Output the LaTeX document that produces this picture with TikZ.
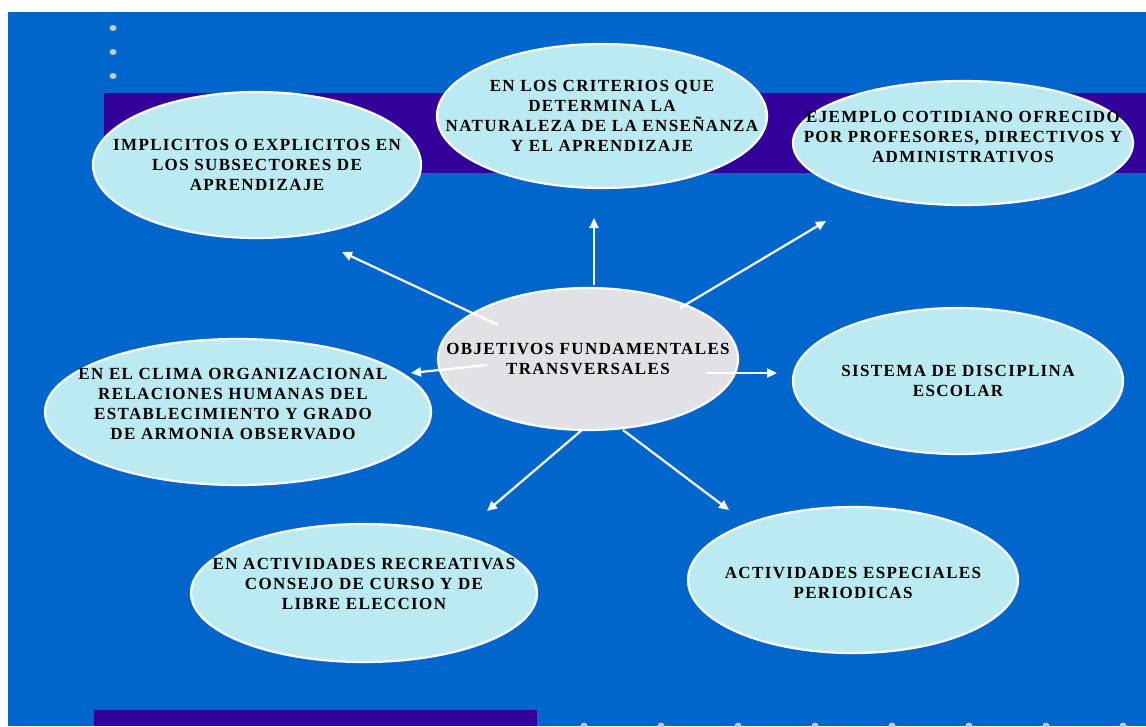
\documentclass[tikz,border=0pt]{standalone}
\usepackage{fontspec}
\setmainfont{Liberation Serif}
\newfontfamily\bubblefont[LetterSpace=8]{Liberation Serif}
\usetikzlibrary{shapes.geometric}
\usetikzlibrary{arrows.meta}
\definecolor{slideblue}{RGB}{0,102,204}
\definecolor{bandpurple}{RGB}{51,0,153}
\definecolor{bubblecyan}{RGB}{188,234,242}
\definecolor{marblegray}{RGB}{226,226,230}
\definecolor{dotgray}{RGB}{200,200,210}
\tikzset{bubble/.style={ellipse,draw=white,line width=2.2pt,fill=bubblecyan,inner sep=0pt},
 hub/.style={bubble,fill=marblegray},
 txt/.style={align=center,text=black,font=\bubblefont\bfseries\fontsize{17}{20}\selectfont},
 arr/.style={draw=white,line width=2.2pt,-{Triangle[length=10pt,width=9pt]}},
 dot/.style={fill=dotgray,draw=none},
 }

\begin{document}
\begin{tikzpicture}[x=1pt,y=-1pt]
        \useasboundingbox (0,0) rectangle (1146,726);
        \fill [white] (0,0) rectangle (1146,726);
        \fill [slideblue] (8,12) rectangle (1146,726);
        \fill [bandpurple] (104,93) rectangle (1146,173);
        \fill [bandpurple] (94,710) rectangle (537,726);
        \foreach \y in {28,52,76}
            \fill [dot] (113,\y) ellipse (3.5 and 3);
        \foreach \x in {584,661,...,1130}
            \fill [dot] (\x,726) ellipse (3.5 and 3.5);
        % ellipses
        \node [bubble, minimum width=328, minimum height=146,
            label={[txt]center:IMPLICITOS O EXPLICITOS EN\\LOS SUBSECTORES DE\\APRENDIZAJE}] (implicitos) at (257,165) {};
        \node [bubble, minimum width=330, minimum height=144,
            label={[txt]center:EN LOS CRITERIOS QUE\\DETERMINA LA\\NATURALEZA DE LA ENSEÑANZA\\Y EL APRENDIZAJE}] (criterios) at (602,116) {};
        \node [bubble, minimum width=340, minimum height=124,
            label={[txt,yshift=6pt]center:EJEMPLO COTIDIANO OFRECIDO\\POR PROFESORES, DIRECTIVOS Y\\ADMINISTRATIVOS}] (ejemplo) at (963,143) {};
        \node [bubble, minimum width=330, minimum height=146,
            label={[txt]center:SISTEMA DE DISCIPLINA\\ESCOLAR}] (sistema) at (958,381) {};
        \node [bubble, minimum width=386, minimum height=146,
            label={[txt,xshift=-5pt,yshift=8pt]center:EN EL CLIMA ORGANIZACIONAL\\RELACIONES HUMANAS DEL\\ESTABLECIMIENTO Y GRADO\\DE ARMONIA OBSERVADO}] (clima) at (238,412) {};
        \node [bubble, minimum width=346, minimum height=138,
            label={[txt,yshift=9pt]center:EN ACTIVIDADES RECREATIVAS\\CONSEJO DE CURSO Y DE\\LIBRE ELECCION}] (recreativas) at (364,593) {};
        \node [bubble, minimum width=330, minimum height=146,
            label={[txt,yshift=-3pt]center:ACTIVIDADES ESPECIALES\\PERIODICAS}] (especiales) at (853,580) {};
        \node [hub, minimum width=300, minimum height=142,
            label={[txt]center:OBJETIVOS FUNDAMENTALES\\TRANSVERSALES}] (ctr) at (588,359) {};
        % arrow ends
        \coordinate (ul-from) at (498,325);
        \coordinate (ul-to) at (342,252);
        \coordinate (up-from) at (594,285);
        \coordinate (up-to) at (594,218);
        \coordinate (ur-from) at (680,308);
        \coordinate (ur-to) at (826,221);
        \coordinate (l-from) at (487,365);
        \coordinate (l-to) at (411,373);
        \coordinate (r-from) at (707,373);
        \coordinate (r-to) at (777,373);
        \coordinate (dl-from) at (582,430);
        \coordinate (dl-to) at (487,511);
        \coordinate (dr-from) at (623,430);
        \coordinate (dr-to) at (729,510);
        \foreach \a in {ul,up,ur,l,r,dl,dr}
            \draw [arr] (\a-from) -- (\a-to);
    \end{tikzpicture}
\end{document}
